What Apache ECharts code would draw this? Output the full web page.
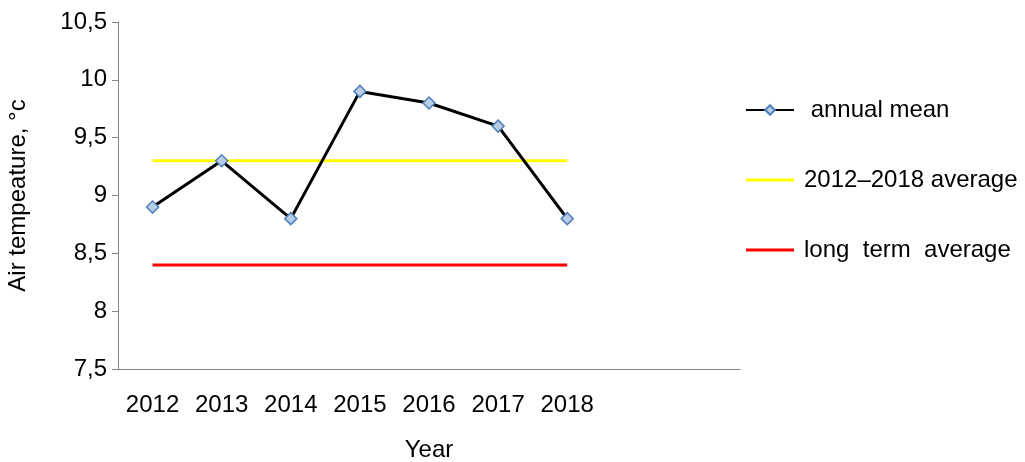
<!DOCTYPE html>
<html>
<head>
<meta charset="utf-8">
<script src="https://cdn.jsdelivr.net/npm/echarts@6/dist/echarts.min.js"></script>
<style>
  html, body { margin: 0; padding: 0; background: #fff; }
  #chart { width: 1025px; height: 462px; }
</style>
</head>
<body>
<div id="chart"></div>
<script>
var years = ['2012', '2013', '2014', '2015', '2016', '2017', '2018', '', ''];
var annualMean = [8.9, 9.3, 8.8, 9.9, 9.8, 9.6, 8.8];
var periodAverage = [9.3, 9.3, 9.3, 9.3, 9.3, 9.3, 9.3];
var longTermAverage = [8.4, 8.4, 8.4, 8.4, 8.4, 8.4, 8.4];

var myChart = echarts.init(document.getElementById('chart'));
var font = 'Liberation Sans, Arial, sans-serif';
var lineIcon = 'path://M0,0L48,0L48,3L0,3Z';

var option = {
    animation: false,
    textStyle: { fontFamily: font },
    grid: { left: 118, right: 285, top: 22, bottom: 93, outerBoundsMode: 'none' },
    legend: {
        orient: 'vertical',
        left: 745,
        top: 98,
        padding: 0,
        itemGap: 46,
        itemWidth: 48,
        itemHeight: 12,
        textStyle: { fontFamily: font, fontSize: 24, color: '#000', padding: [0, 0, 0, 5] },
        data: [
            { name: ' annual mean' },
            { name: '2012\u20132018 average', icon: lineIcon },
            { name: 'long  term  average', icon: lineIcon }
        ]
    },
    xAxis: {
        type: 'category',
        data: years,
        name: 'Year',
        nameLocation: 'middle',
        nameGap: 69,
        nameTextStyle: { fontFamily: font, fontSize: 24, color: '#000' },
        axisLine: { lineStyle: { color: '#868686' } },
        axisTick: { length: 6, lineStyle: { color: '#868686' } },
        axisLabel: { fontFamily: font, fontSize: 24, color: '#000', margin: 24, interval: 0 }
    },
    yAxis: {
        type: 'value',
        min: 7.5,
        max: 10.5,
        interval: 0.5,
        name: 'Air tempeature, \u00b0c',
        nameLocation: 'middle',
        nameGap: 88,
        nameTextStyle: { fontFamily: font, fontSize: 24, color: '#000' },
        axisLine: { show: true, lineStyle: { color: '#868686' } },
        axisTick: { show: true, length: 6, lineStyle: { color: '#868686' } },
        splitLine: { show: false },
        axisLabel: {
            fontFamily: font, fontSize: 24, color: '#000', margin: 11,
            formatter: function (v) { return String(v).replace('.', ','); }
        }
    },
    series: [
        {
            name: '2012\u20132018 average',
            type: 'line',
            data: periodAverage,
            symbol: 'none',
            lineStyle: { color: '#FFFF00', width: 3 },
            itemStyle: { color: '#FFFF00' },
            z: 2
        },
        {
            name: 'long  term  average',
            type: 'line',
            data: longTermAverage,
            symbol: 'none',
            lineStyle: { color: '#FF0000', width: 3 },
            itemStyle: { color: '#FF0000' },
            z: 2
        },
        {
            name: ' annual mean',
            type: 'line',
            data: annualMean,
            symbol: 'diamond',
            symbolSize: 12,
            lineStyle: { color: '#000', width: 3 },
            itemStyle: { color: '#B9CDE5', borderColor: '#4F81BD', borderWidth: 1.5 },
            z: 3
        }
    ]
};

myChart.setOption(option);
</script>
</body>
</html>
